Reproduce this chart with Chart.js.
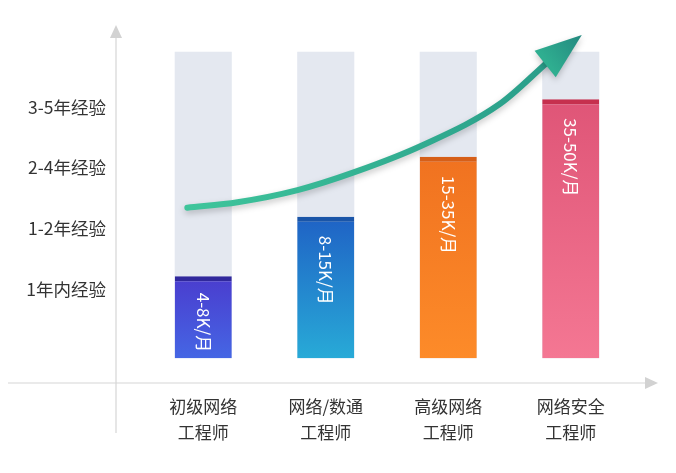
<!DOCTYPE html>
<html>
<head>
<meta charset="utf-8">
<script src="https://cdn.jsdelivr.net/npm/chart.js@4/dist/chart.umd.min.js"></script>
<style>
html,body{margin:0;padding:0;background:#fff;}
#c{display:block;width:676px;height:473px;}
</style>
</head>
<body>
<canvas id="c" width="676" height="473"></canvas>
<script>
// ---- data ----
const categories = [["初级网络","工程师"],["网络/数通","工程师"],["高级网络","工程师"],["网络安全","工程师"]];
const expLabels = ["1年内经验","1-2年经验","2-4年经验","3-5年经验"];
const expLevels = [1,2,3,4];
const salaryLabels = ["4-8K/月","8-15K/月","15-35K/月","35-50K/月"];
const salaryTop = [1.21,2.19,3.18,4.13];
const panelTop = [4.91,4.91,4.91,4.91];
const barBase = -0.14;
const trendX = [-0.13,0.28,0.77,1.24,1.79,2.42,2.81];
const trendY = [2.34,2.43,2.63,2.93,3.37,4.05,4.74];
const arrowTip = {x:3.09, y:5.19};

const gradTop = ["#4a3cce","#1f62c5","#f07220","#df5577"];
const gradBot = ["#4566e4","#28aad7","#fd8b29","#f47793"];
const stripCol = ["#30289c","#1a55a8","#d65f18","#c6304e"];

const FONT = "'Noto Sans CJK SC','Noto Sans',sans-serif";

const axesPlugin = {
  id:'axesDeco',
  beforeDraw(chart){
    const ctx = chart.ctx, ca = chart.chartArea;
    const yx = ca.left - 26, xy = ca.bottom;
    ctx.save();
    ctx.strokeStyle = '#d6d6d6'; ctx.lineWidth = 1.2;
    ctx.beginPath(); ctx.moveTo(yx, ca.top + 10); ctx.lineTo(yx, xy + 50); ctx.stroke();
    ctx.beginPath(); ctx.moveTo(8, xy); ctx.lineTo(ca.right + 14, xy); ctx.stroke();
    ctx.fillStyle = '#d2d2d2';
    ctx.beginPath(); ctx.moveTo(yx, ca.top - 2); ctx.lineTo(yx - 6, ca.top + 11); ctx.lineTo(yx + 6, ca.top + 11); ctx.closePath(); ctx.fill();
    ctx.beginPath(); ctx.moveTo(ca.right + 26, xy); ctx.lineTo(ca.right + 13, xy - 6); ctx.lineTo(ca.right + 13, xy + 6); ctx.closePath(); ctx.fill();
    ctx.restore();
  },
  beforeDatasetDraw(chart, args){
    if(args.index === 2){
      const ctx = chart.ctx;
      ctx.save();
      ctx.shadowColor = 'rgba(0,0,0,0.22)';
      ctx.shadowBlur = 6; ctx.shadowOffsetY = 3;
    }
  },
  afterDatasetDraw(chart, args){
    if(args.index === 2){
      const ctx = chart.ctx;
      const xs = chart.scales.x2, ys = chart.scales.y;
      const n = trendX.length;
      const bx = xs.getPixelForValue(trendX[n-1]), by = ys.getPixelForValue(trendY[n-1]);
      const tx = xs.getPixelForValue(arrowTip.x), ty = ys.getPixelForValue(arrowTip.y);
      let dx = tx - bx, dy = ty - by; const L = Math.hypot(dx,dy); dx/=L; dy/=L;
      const px = -dy, py = dx, hw = 17;
      const g = ctx.createLinearGradient(bx, by, tx, ty);
      g.addColorStop(0,'#2fae90'); g.addColorStop(1,'#23887f');
      ctx.fillStyle = g;
      ctx.beginPath();
      ctx.moveTo(tx, ty);
      ctx.lineTo(bx + px*hw - dx*3, by + py*hw - dy*3);
      ctx.lineTo(bx - px*hw - dx*3, by - py*hw - dy*3);
      ctx.closePath(); ctx.fill();
      ctx.restore();
    }
  },
  afterDatasetsDraw(chart){
    const ctx = chart.ctx;
    const meta = chart.getDatasetMeta(1);
    ctx.save();
    ctx.fillStyle = '#ffffff';
    ctx.font = "17px " + FONT;
    ctx.textAlign = 'left'; ctx.textBaseline = 'middle';
    meta.data.forEach((el, i) => {
      const top = el.y, h = el.base - el.y;
      const len = ctx.measureText(salaryLabels[i]).width;
      const start = top + Math.min(19, h - len - 6);
      ctx.save();
      ctx.translate(el.x, start);
      ctx.rotate(Math.PI/2);
      ctx.fillText(salaryLabels[i], 0, 0);
      ctx.restore();
    });
    ctx.restore();
  }
};

function barGrad(c){
  const chart = c.chart, i = c.dataIndex;
  if(!chart.chartArea) return gradTop[i];
  const ys = chart.scales.y;
  const t = ys.getPixelForValue(salaryTop[i]), b = ys.getPixelForValue(barBase);
  const g = chart.ctx.createLinearGradient(0, t, 0, b);
  g.addColorStop(0, gradTop[i]); g.addColorStop(1, gradBot[i]);
  return g;
}
function lineGrad(c){
  const chart = c.chart;
  if(!chart.chartArea) return '#35b894';
  const xs = chart.scales.x2;
  const g = chart.ctx.createLinearGradient(xs.getPixelForValue(trendX[0]),0,xs.getPixelForValue(trendX[trendX.length-1]),0);
  g.addColorStop(0,'#3ec59b'); g.addColorStop(1,'#2a9e8a');
  return g;
}

new Chart(document.getElementById('c'), {
  type:'bar',
  data:{
    labels: categories,
    datasets:[
      {
        data: panelTop, base: barBase, backgroundColor:'#e4e8f0',
        grouped:false, order:3, barPercentage:0.466, categoryPercentage:1
      },
      {
        data: salaryTop, base: barBase, backgroundColor: barGrad,
        borderColor: stripCol, borderWidth:{top:5,left:0,right:0,bottom:0}, borderSkipped:false,
        grouped:false, order:2, barPercentage:0.466, categoryPercentage:1
      },
      {
        type:'line', xAxisID:'x2', yAxisID:'y',
        data: trendX.map((x,i)=>({x:x, y:trendY[i]})),
        borderColor: lineGrad, borderWidth:6, borderCapStyle:'round',
        pointRadius:0, cubicInterpolationMode:'monotone', fill:false, order:1, clip:false
      }
    ]
  },
  options:{
    responsive:false, animation:false,
    layout:{padding:{top:27,right:44,left:0,bottom:0}},
    plugins:{legend:{display:false}, tooltip:{enabled:false}},
    scales:{
      x:{
        grid:{display:false}, border:{display:false},
        ticks:{color:'#333', font:{size:17, family:FONT, lineHeight:1.5}, padding:3, maxRotation:0, autoSkip:false},
        afterFit(s){ s.height = 90; s.paddingLeft = 0; s.paddingRight = 0; }
      },
      x2:{ type:'linear', display:false, offset:false, min:-0.5, max:3.5, grid:{offset:false} },
      y:{
        min:-0.55, max:5.32,
        grid:{display:false, drawTicks:false}, border:{display:false},
        afterBuildTicks(s){ s.ticks = expLevels.map(v=>({value:v})); },
        ticks:{color:'#333', font:{size:17.5, family:FONT}, padding:36,
          callback:(v, idx)=> expLabels[idx]},
        afterFit(s){ s.width = 142; s.paddingTop = 0; s.paddingBottom = 0; }
      }
    }
  },
  plugins:[axesPlugin]
});
</script>
</body>
</html>
